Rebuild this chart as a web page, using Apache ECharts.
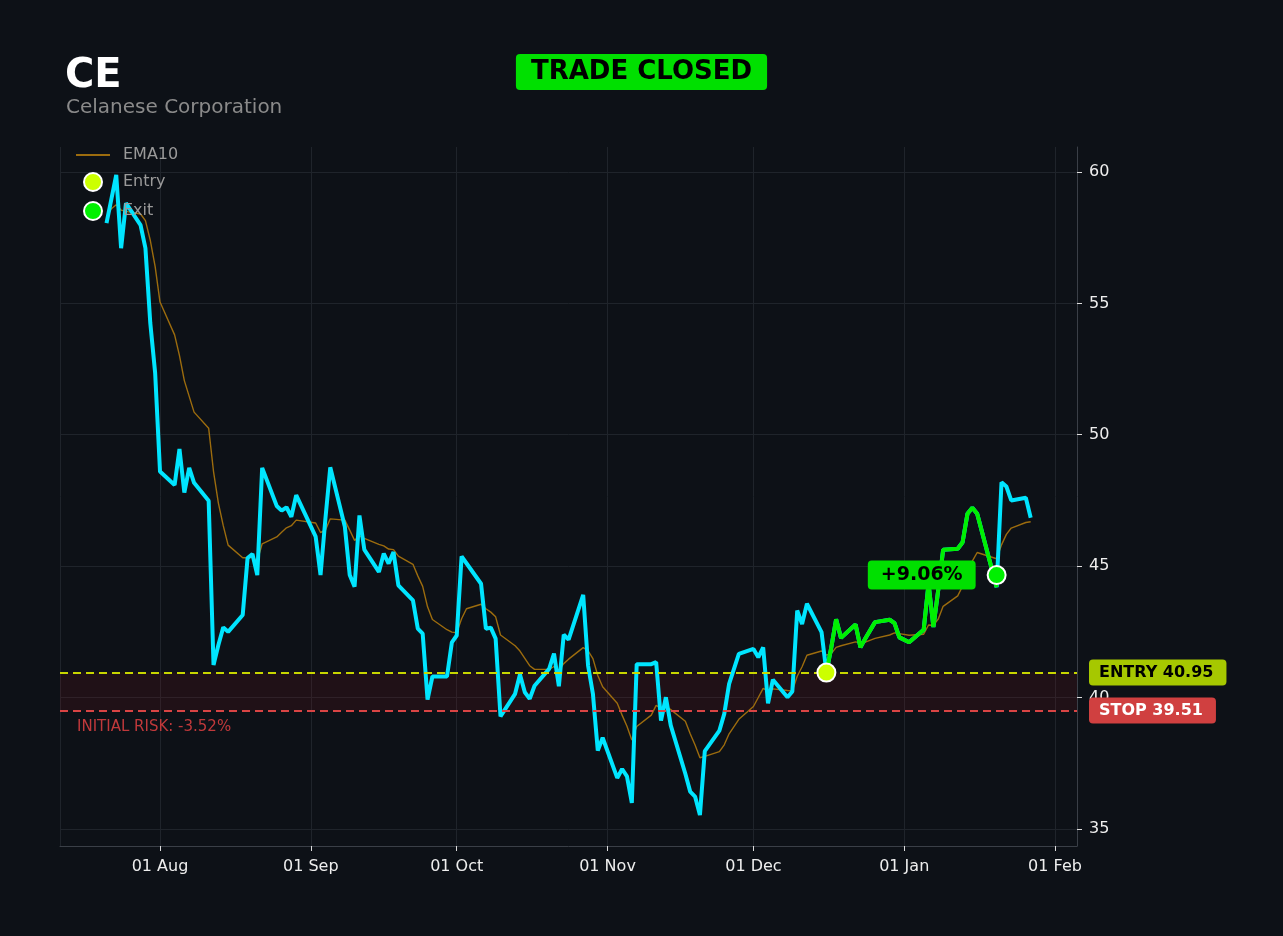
<!DOCTYPE html>
<html>
<head>
<meta charset="utf-8">
<title>CE - Trade Closed</title>
<script src="https://cdn.jsdelivr.net/npm/echarts@6/dist/echarts.min.js"></script>
<style>
  html, body { margin: 0; padding: 0; background: #0d1117; }
  #chart { width: 1283px; height: 936px; }
</style>
</head>
<body>
<div id="chart"></div>
<script>
// trading days shown on the chart
var dates = [
  '2025-07-21', '2025-07-22', '2025-07-23', '2025-07-24', '2025-07-25',
  '2025-07-28', '2025-07-29', '2025-07-30', '2025-07-31', '2025-08-01',
  '2025-08-04', '2025-08-05', '2025-08-06', '2025-08-07', '2025-08-08',
  '2025-08-11', '2025-08-12', '2025-08-13', '2025-08-14', '2025-08-15',
  '2025-08-18', '2025-08-19', '2025-08-20', '2025-08-21', '2025-08-22',
  '2025-08-25', '2025-08-26', '2025-08-27', '2025-08-28', '2025-08-29',
  '2025-09-02', '2025-09-03', '2025-09-04', '2025-09-05',
  '2025-09-08', '2025-09-09', '2025-09-10', '2025-09-11', '2025-09-12',
  '2025-09-15', '2025-09-16', '2025-09-17', '2025-09-18', '2025-09-19',
  '2025-09-22', '2025-09-23', '2025-09-24', '2025-09-25', '2025-09-26',
  '2025-09-29', '2025-09-30', '2025-10-01', '2025-10-02', '2025-10-03',
  '2025-10-06', '2025-10-07', '2025-10-08', '2025-10-09', '2025-10-10',
  '2025-10-13', '2025-10-14', '2025-10-15', '2025-10-16', '2025-10-17',
  '2025-10-20', '2025-10-21', '2025-10-22', '2025-10-23', '2025-10-24',
  '2025-10-27', '2025-10-28', '2025-10-29', '2025-10-30', '2025-10-31',
  '2025-11-03', '2025-11-04', '2025-11-05', '2025-11-06', '2025-11-07',
  '2025-11-10', '2025-11-11', '2025-11-12', '2025-11-13', '2025-11-14',
  '2025-11-17', '2025-11-18', '2025-11-19', '2025-11-20', '2025-11-21',
  '2025-11-24', '2025-11-25', '2025-11-26', '2025-11-28',
  '2025-12-01', '2025-12-02', '2025-12-03', '2025-12-04', '2025-12-05',
  '2025-12-08', '2025-12-09', '2025-12-10', '2025-12-11', '2025-12-12',
  '2025-12-15', '2025-12-16', '2025-12-17', '2025-12-18', '2025-12-19',
  '2025-12-22', '2025-12-23', '2025-12-24', '2025-12-26',
  '2025-12-29', '2025-12-30', '2025-12-31', '2026-01-02',
  '2026-01-05', '2026-01-06', '2026-01-07', '2026-01-08', '2026-01-09',
  '2026-01-12', '2026-01-13', '2026-01-14', '2026-01-15', '2026-01-16',
  '2026-01-20', '2026-01-21', '2026-01-22', '2026-01-23',
  '2026-01-26', '2026-01-27'
];

// closing prices
var closes = [
  58.05, 58.97, 59.89, 57.10, 58.81,
  57.98, 57.10, 54.25, 52.35, 48.60,
  48.09, 49.46, 47.80, 48.74, 48.17,
  47.49, 41.24, 42.00, 42.67, 42.50,
  43.14, 45.31, 45.46, 44.66, 48.74,
  47.29, 47.11, 47.24, 46.88, 47.70,
  46.12, 44.66, 46.80, 48.76,
  46.50, 44.66, 44.22, 46.93, 45.63,
  44.78, 45.48, 45.10, 45.54, 44.27,
  43.70, 42.62, 42.43, 39.92, 40.80,
  40.80, 42.10, 42.36, 45.37, 45.11,
  44.33, 42.62, 42.66, 42.24, 39.28,
  40.14, 40.88, 40.20, 39.95, 40.45,
  41.09, 41.67, 40.43, 42.39, 42.20,
  43.91, 41.22, 40.14, 37.98, 38.47,
  36.94, 37.28, 37.00, 35.99, 41.27,
  41.27, 41.35, 39.12, 40.01, 38.94,
  37.10, 36.42, 36.23, 35.53, 37.96,
  38.74, 39.38, 40.52, 41.66,
  41.85, 41.53, 41.91, 39.78, 40.68,
  40.01, 40.23, 43.31, 42.80, 43.57,
  42.49, 40.96, 41.90, 42.98, 42.27,
  42.78, 41.91, 42.25, 42.87,
  42.96, 42.83, 42.29, 42.10,
  42.58, 44.33, 42.68, 44.10, 45.62,
  45.66, 45.91, 46.99, 47.22, 46.99,
  44.20, 48.19, 48.03, 47.50,
  47.60, 46.84
];

// EMA10 line
var ema10 = [
  58.30, 58.60, 58.75, 58.55, 58.50,
  58.40, 58.15, 57.40, 56.40, 55.05,
  53.80, 53.01, 52.06, 51.46, 50.86,
  50.25, 48.60, 47.40, 46.54, 45.80,
  45.32, 45.32, 45.34, 45.20, 45.85,
  46.11, 46.29, 46.46, 46.54, 46.75,
  46.64, 46.28, 46.37, 46.80,
  46.75, 46.37, 45.98, 46.15, 46.06,
  45.83, 45.77, 45.65, 45.63, 45.38,
  45.07, 44.63, 44.23, 43.45, 42.97,
  42.58, 42.49, 42.47, 43.00, 43.38,
  43.55, 43.38, 43.25, 43.07, 42.38,
  41.97, 41.77, 41.49, 41.21, 41.07,
  41.07, 41.18, 41.04, 41.29, 41.46,
  41.90, 41.78, 41.48, 40.84, 40.41,
  39.78, 39.33, 38.91, 38.38, 38.90,
  39.33, 39.70, 39.59, 39.67, 39.54,
  39.10, 38.62, 38.19, 37.71, 37.76,
  37.94, 38.20, 38.62, 39.17,
  39.66, 40.00, 40.35, 40.25, 40.33,
  40.27, 40.26, 40.81, 41.17, 41.61,
  41.77, 41.62, 41.67, 41.91, 41.97,
  42.12, 42.08, 42.11, 42.25,
  42.38, 42.46, 42.43, 42.37,
  42.41, 42.76, 42.75, 42.99, 43.47,
  43.87, 44.24, 44.74, 45.19, 45.52,
  45.28, 45.81, 46.21, 46.45,
  46.66, 46.69
];

// trade
var entryDate = '2025-12-16';
var entryPrice = 40.95;
var exitDate = '2026-01-20';
var exitPrice = 44.66;
var stopPrice = 39.51;
var tradeReturn = '+9.06%';
var initialRisk = '-3.52%';

// axis ticks
var yTicks = [35, 40, 45, 50, 55, 60];
var monthNames = ['Jan', 'Feb', 'Mar', 'Apr', 'May', 'Jun', 'Jul', 'Aug', 'Sep', 'Oct', 'Nov', 'Dec'];

var entryColor = '#ccff00';
var exitColor = '#00f000';

function pairs(values, from, to) {
  var out = [];
  for (var i = from; i <= to; i++) {
    out.push([dates[i], values[i]]);
  }
  return out;
}

function getOption() {
  var entryIdx = dates.indexOf(entryDate);
  var exitIdx = dates.indexOf(exitDate);
  var last = dates.length - 1;

  return {
    backgroundColor: '#0d1117',
    animation: false,
    textStyle: { fontFamily: 'DejaVu Sans' },
    title: [
      {
        text: 'CE',
        left: 65, top: 57,
        padding: 0,
        textStyle: { color: '#ffffff', fontSize: 40, fontWeight: 'bold' }
      },
      {
        text: 'Celanese Corporation',
        left: 66, top: 98,
        padding: 0,
        textStyle: { color: '#8a8a8a', fontSize: 20, fontWeight: 'normal' }
      },
      {
        text: 'TRADE CLOSED',
        left: 'center', top: 54,
        padding: [5, 15],
        backgroundColor: '#00e000',
        borderRadius: 4,
        textStyle: { color: '#000000', fontSize: 26, fontWeight: 'bold', lineHeight: 26 }
      },
      {
        text: 'INITIAL RISK: ' + initialRisk,
        left: 77, top: 720,
        padding: 0,
        textStyle: { color: '#c0393b', fontSize: 15, fontWeight: 'normal' }
      }
    ],
    legend: {
      data: [
        { name: 'EMA10', itemStyle: { opacity: 0 } },
        { name: 'Entry', itemStyle: { color: entryColor, borderColor: '#ffffff', borderWidth: 2, opacity: 1 } },
        { name: 'Exit', itemStyle: { color: exitColor, borderColor: '#ffffff', borderWidth: 2, opacity: 1 } }
      ],
      orient: 'vertical',
      left: 75, top: 147,
      itemWidth: 34,
      itemHeight: 18,
      itemGap: 9,
      padding: 0,
      selectedMode: false,
      textStyle: { color: '#9a9a9a', fontSize: 16, padding: [0, 0, 0, 8] }
    },
    grid: { left: 60, right: 206, top: 147, bottom: 90 },
    xAxis: {
      type: 'time',
      min: '2025-07-11 10:30:00',
      max: '2026-02-05 12:30:00',
      splitNumber: 7,
      minInterval: 28 * 24 * 3600 * 1000,
      axisLine: { show: true, lineStyle: { color: '#3a3f47' } },
      axisTick: { show: true, length: 5, lineStyle: { color: '#dddddd' } },
      axisLabel: {
        color: '#eeeeee', fontSize: 16, margin: 13,
        formatter: function (v) {
          var d = new Date(v);
          return d.getDate() === 1 ? '01 ' + monthNames[d.getMonth()] : '';
        }
      },
      splitLine: { show: true, lineStyle: { color: '#1f242b' } }
    },
    yAxis: {
      type: 'value',
      position: 'right',
      min: 34.35,
      max: 60.95,
      splitNumber: 5,
      axisLine: { show: true, lineStyle: { color: '#3a3f47' } },
      axisTick: { show: true, length: 5, lineStyle: { color: '#dddddd' }, customValues: yTicks },
      axisLabel: { color: '#eeeeee', fontSize: 16, margin: 12, customValues: yTicks },
      splitLine: { show: true, lineStyle: { color: '#1f242b' } }
    },
    series: [
      {
        name: 'EMA10',
        type: 'line',
        data: pairs(ema10, 0, last),
        symbol: 'none',
        color: '#9c6c0e',
        lineStyle: { width: 1.4, color: '#9c6c0e' },
        z: 2
      },
      {
        name: 'Price',
        type: 'line',
        data: pairs(closes, 0, last),
        symbol: 'none',
        color: '#00e5ff',
        lineStyle: { width: 4, color: '#00e5ff' },
        z: 3,
        markArea: {
          silent: true,
          itemStyle: { color: 'rgba(120, 20, 30, 0.18)' },
          data: [[{ yAxis: stopPrice }, { yAxis: entryPrice }]]
        },
        markLine: {
          silent: true,
          symbol: 'none',
          data: [
            {
              yAxis: entryPrice,
              lineStyle: { color: '#c8d600', type: [8, 5], width: 2 },
              label: {
                show: true, position: 'end', distance: 12,
                formatter: 'ENTRY ' + entryPrice.toFixed(2),
                color: '#000000', backgroundColor: '#a6c800',
                fontSize: 16, fontWeight: 'bold',
                padding: [5, 13, 5, 10], borderRadius: 4
              }
            },
            {
              yAxis: stopPrice,
              lineStyle: { color: '#d94444', type: [8, 5], width: 2 },
              label: {
                show: true, position: 'end', distance: 12,
                formatter: 'STOP ' + stopPrice.toFixed(2),
                color: '#ffffff', backgroundColor: '#d04040',
                fontSize: 16, fontWeight: 'bold',
                padding: [5, 13, 5, 10], borderRadius: 4
              }
            }
          ]
        }
      },
      {
        name: 'Trade',
        type: 'line',
        data: pairs(closes, entryIdx, exitIdx),
        symbol: 'none',
        color: exitColor,
        lineStyle: { width: 4, color: exitColor },
        z: 4
      },
      {
        name: 'Entry',
        type: 'scatter',
        data: [[entryDate, entryPrice]],
        symbol: 'circle',
        symbolSize: 18,
        itemStyle: { color: entryColor, borderColor: '#ffffff', borderWidth: 2, opacity: 1 },
        z: 6
      },
      {
        name: 'Exit',
        type: 'scatter',
        data: [[exitDate, exitPrice]],
        symbol: 'circle',
        symbolSize: 18,
        itemStyle: { color: exitColor, borderColor: '#ffffff', borderWidth: 2, opacity: 1 },
        label: {
          show: true, position: 'left', distance: 11,
          formatter: tradeReturn,
          color: '#000000', backgroundColor: '#00e000',
          fontSize: 19, fontWeight: 'bold',
          padding: [5, 13], borderRadius: 4
        },
        z: 6
      }
    ]
  };
}

var chart = echarts.init(document.getElementById('chart'));
chart.setOption(getOption());
</script>
</body>
</html>
